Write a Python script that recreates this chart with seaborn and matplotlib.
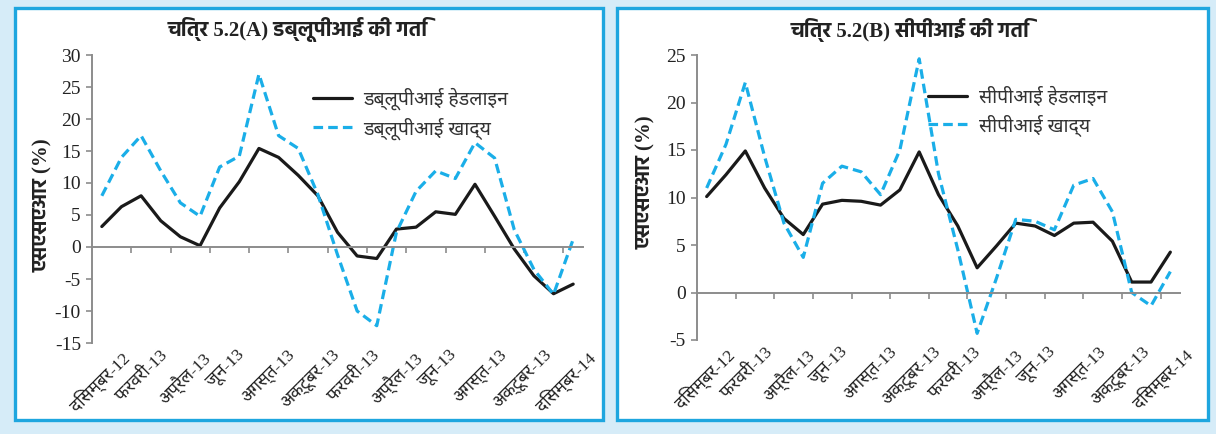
import numpy as np
import pandas as pd
import matplotlib
matplotlib.use("Agg")
import matplotlib.pyplot as plt
from matplotlib import font_manager
from matplotlib.patches import Rectangle
import seaborn as sns

# ---- data (monthly SAAR, %) ----
months = list(range(25))  # दिसम्बर-12 ... दिसम्बर-14

wpi_headline = [3.2, 6.3, 8.0, 4.1, 1.6, 0.2, 6.1, 10.2, 15.4, 14.0, 11.2, 8.0, 2.3,
                -1.4, -1.8, 2.8, 3.1, 5.5, 5.1, 9.8, 4.8, -0.3, -4.5, -7.3, -5.8]
wpi_food = [8.0, 14.0, 17.4, 11.9, 6.9, 4.8, 12.5, 14.2, 27.0, 17.4, 15.4, 8.2, -1.2,
            -10.0, -12.3, 2.3, 8.7, 11.9, 10.7, 16.3, 13.9, 2.7, -3.5, -7.4, 1.2]

cpi_headline = [10.1, 12.4, 14.9, 11.0, 7.8, 6.1, 9.3, 9.7, 9.6, 9.2, 10.8, 14.8, 10.3,
                7.0, 2.6, 4.9, 7.3, 7.0, 6.0, 7.3, 7.4, 5.4, 1.1, 1.1, 4.25]
cpi_food = [11.0, 15.6, 22.1, 14.3, 7.3, 3.7, 11.5, 13.3, 12.7, 10.3, 15.0, 24.6, 12.5,
            4.5, -4.3, 1.5, 7.7, 7.5, 6.6, 11.3, 12.0, 8.5, 0.0, -1.4, 2.2]

tick_labels = ['दिसम्बर-12', 'फरवरी-13', 'अप्रैल-13', 'जून-13', 'अगस्त-13', 'अक्टूबर-13',
               'फरवरी-13', 'अप्रैल-13', 'जून-13', 'अगस्त-13', 'अक्टूबर-13', 'दिसम्बर-14']

wpi_names = ['डब्लूपीआई हेडलाइन', 'डब्लूपीआई खाद्य']
cpi_names = ['सीपीआई हेडलाइन', 'सीपीआई खाद्य']
titles = ['चित्र 5.2(A) डब्लूपीआई की गति', 'चित्र 5.2(B) सीपीआई की गति']
y_label = 'एसएसएआर (%)'

# ---- styling ----
sns.set_style("white")
ttf = font_manager.fontManager.ttflist
available = {f.name for f in ttf}
candidates = ["Noto Sans Devanagari", "Hind", "Mukta", "Poppins",
              "Annapurna SIL", "Arya", "Biryani"]
deva = next((n for n in candidates if n in available), "DejaVu Sans")
# a Devanagari family that ships a real bold face, for titles and axis labels
deva_bold = next((n for n in ["Hind", "Mukta", "Poppins", "Annapurna SIL", "Arya",
                              "Biryani", deva]
                  if any(f.name == n and f.weight in (700, 'bold') for f in ttf)), deva)

plt.rcParams['font.family'] = ['Liberation Serif', deva]
plt.rcParams['lines.solid_joinstyle'] = 'round'
plt.rcParams['axes.unicode_minus'] = False

BLACK = '#1a1a1a'
CYAN = '#1aaee8'
GREY = '#8c8c8c'
FRAME = '#1ea6df'
BG = '#d6ecf8'

W, H = 1216, 434
fig = plt.figure(figsize=(W / 100, H / 100), dpi=100)
fig.patch.set_facecolor(BG)


def px_box(x0, y0, x1, y1):
    """Figure-fraction rectangle from pixel edges (y measured from the top)."""
    return [x0 / W, 1 - y1 / H, (x1 - x0) / W, (y1 - y0) / H]


# white panels with blue borders, kept behind the axes
for x0, x1 in [(15, 603), (617, 1208)]:
    l, b, w, h = px_box(x0, 8, x1, 420)
    fig.patches.append(Rectangle((l, b), w, h, transform=fig.transFigure,
                                 facecolor='white', edgecolor=FRAME, linewidth=2.4,
                                 zorder=-5))

panels = [
    dict(box=(92, 55, 583, 343), ylim=(-15, 30), head=wpi_headline, food=wpi_food,
         names=wpi_names, title=titles[0], title_x=298, leg=(313, 88),
         ylab=(53, 0.48)),
    dict(box=(697, 55, 1180, 340), ylim=(-5, 25), head=cpi_headline, food=cpi_food,
         names=cpi_names, title=titles[1], title_x=910, leg=(928, 87),
         ylab=(656, 0.555)),
]

for p in panels:
    ax = fig.add_axes(px_box(*p['box']))
    ax.set_zorder(2)
    ax.set_facecolor('none')
    df = pd.DataFrame({
        'month': months * 2,
        'value': p['head'] + p['food'],
        'series': [p['names'][0]] * len(months) + [p['names'][1]] * len(months),
    })
    sns.lineplot(data=df, x='month', y='value', hue='series', style='series',
                 hue_order=p['names'], style_order=p['names'],
                 palette={p['names'][0]: BLACK, p['names'][1]: CYAN},
                 dashes={p['names'][0]: '', p['names'][1]: (3.0, 1.6)},
                 linewidth=2.3, ax=ax)
    handles, labels = ax.get_legend_handles_labels()
    ax.get_legend().remove()

    ax.set_xlim(-0.5, len(months) - 0.5)
    ax.set_ylim(*p['ylim'])
    ax.set_yticks(np.arange(p['ylim'][0], p['ylim'][1] + 1, 5))
    ax.set_xlabel('')
    ax.set_ylabel(y_label, fontsize=15, fontweight='bold', color='#222222',
                  family=['Liberation Serif', deva_bold])
    x0, _, x1, _ = p['box']
    ax.yaxis.set_label_coords((p['ylab'][0] - x0) / (x1 - x0), p['ylab'][1])

    for s in ['top', 'right']:
        ax.spines[s].set_visible(False)
    for s in ['left', 'bottom']:
        ax.spines[s].set_color(GREY)
        ax.spines[s].set_linewidth(1.4)
    ax.spines['bottom'].set_position(('data', 0))

    ax.tick_params(axis='y', direction='out', length=4, width=1.2, color=GREY,
                   labelsize=14, labelcolor='#222222', pad=4, left=True)
    ax.set_xticks([])
    ax.set_xticks(np.arange(1.5, len(months) - 1, 2), minor=True)
    ax.tick_params(axis='x', which='minor', direction='out', length=4, width=1.2,
                   color=GREY, bottom=True, labelbottom=False)

    # category labels along the bottom edge
    sec = ax.secondary_xaxis(0.0)
    sec.set_xticks(np.linspace(-0.1, 23.6, len(tick_labels)), labels=tick_labels)
    sec.tick_params(length=0, pad=3, labelsize=12.5, labelrotation=45,
                    labelcolor='#222222')
    for t in sec.get_xticklabels():
        t.set_ha('center')
        t.set_va('top')
    sec.spines['bottom'].set_visible(False)

    lx, ly = p['leg']
    ax.legend(handles, labels, loc='upper left',
              bbox_to_anchor=(lx / W, 1 - ly / H), bbox_transform=fig.transFigure,
              frameon=False, fontsize=14, handlelength=2.0, handletextpad=0.6,
              labelspacing=0.35, borderpad=0, borderaxespad=0,
              labelcolor='#333333')

    fig.text(p['title_x'] / W, 1 - 30 / H, p['title'], ha='center', va='center',
             fontsize=15, fontweight='bold', color='#222222',
             family=['Liberation Serif', deva_bold])

fig.savefig('out.png', dpi=100, facecolor=fig.get_facecolor())
